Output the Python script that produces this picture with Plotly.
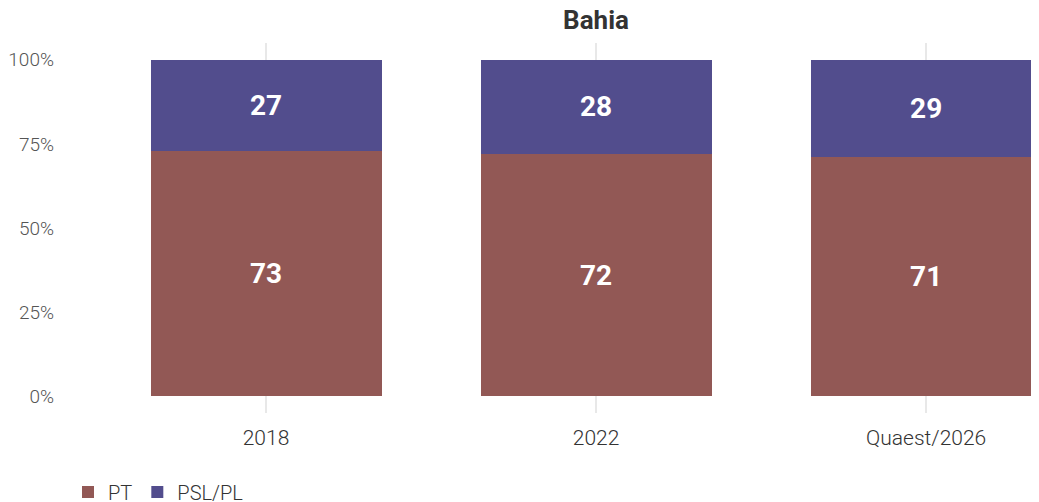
import plotly.graph_objects as go

# dados
anos = ['2018', '2022', 'Quaest/2026']
pt = [73, 72, 71]
psl = [27, 28, 29]
ticks_y = [0, 25, 50, 75, 100]
ticks_y_txt = ['0%', '25%', '50%', '75%', '100%']

cor_pt = '#925855'
cor_psl = '#524D8D'

# a página tem 8px de margem no body
W, H = 1031, 494

fig = go.Figure()

fig.add_trace(go.Bar(
    x=anos, y=pt, name='PT',
    marker=dict(color=cor_pt, line=dict(width=0)),
    text=pt, texttemplate='%{text}', textposition='inside',
    insidetextanchor='middle',
    textfont=dict(family='Roboto', size=28, color='white', weight='bold'),
))
fig.add_trace(go.Bar(
    x=anos, y=psl, name='PSL/PL',
    marker=dict(color=cor_psl, line=dict(width=0)),
    text=psl, texttemplate='%{text}', textposition='inside',
    insidetextanchor='middle',
    textfont=dict(family='Roboto', size=28, color='white', weight='bold'),
))

fig.update_layout(
    width=W, height=H,
    barmode='stack', bargap=0.3,
    plot_bgcolor='white', paper_bgcolor='white',
    font=dict(family='Roboto', color='#333333'),
    margin=dict(l=93, r=0, t=35, b=89),
    title=dict(text='<b>Bahia</b>', x=588 / W, xref='container', xanchor='center',
               y=1 - 12 / H, yref='container', yanchor='middle',
               font=dict(family='Roboto', size=26, color='#333333')),
    legend=dict(orientation='h', x=60 / W, xref='container', xanchor='left',
                y=10 / H, yref='container', yanchor='middle',
                font=dict(family='Roboto', size=20, color='#333333', weight=300),
                itemwidth=30, traceorder='normal'),
    uniformtext=dict(mode='show', minsize=10),
)

fig.update_xaxes(
    range=[-0.5, 2.342], showgrid=True, gridcolor='#e8e8e8', gridwidth=2,
    showline=False, zeroline=False, ticks='',
    tickfont=dict(family='Roboto', size=21, color='#333333', weight=300),
    ticklabelstandoff=10,
)
fig.update_yaxes(
    range=[-5, 105], tickvals=ticks_y, ticktext=ticks_y_txt, showgrid=False,
    zeroline=False, showline=False, ticks='',
    tickfont=dict(family='Roboto', size=19, color='#555555', weight=300),
    ticklabelstandoff=46,
)

fig.write_html('out.html')
